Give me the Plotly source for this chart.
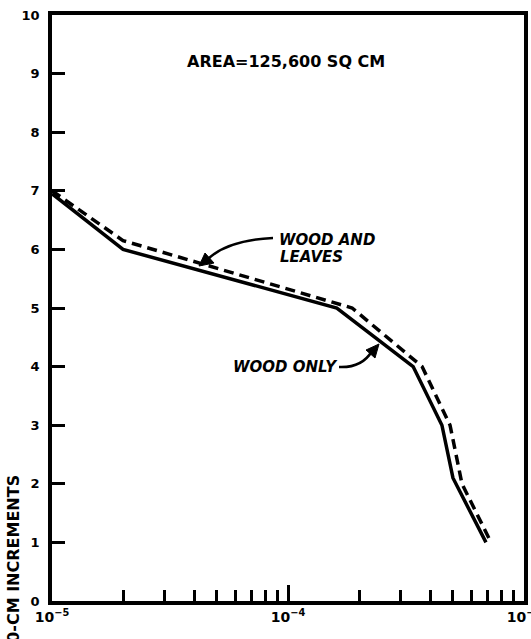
import plotly.graph_objects as go

# Data
x_wood = [1e-5, 2e-5, 1.61e-4, 3.39e-4, 4.49e-4, 5.0e-4, 6.9e-4]
y_wood = [6.95, 6.0, 5.0, 4.0, 3.0, 2.1, 1.0]
x_leaves = [1e-5, 2e-5, 1.87e-4, 3.7e-4, 4.86e-4, 5.46e-4, 7.25e-4]
y_leaves = [7.0, 6.15, 5.0, 4.0, 3.0, 2.0, 1.0]

x_major = [1e-5, 1e-4, 1e-3]
x_major_text = ["10<sup>−5</sup>", "10<sup>−4</sup>", "10<sup>−3</sup>"]
x_minor = [m * d for d in (1e-5, 1e-4) for m in range(2, 10)]
y_ticks = list(range(0, 11))

W, H = 531, 639
L, R, T, B = 52, 7, 15, 38
PW, PH = W - L - R, H - T - B

def px(xp):
    return (xp - L) / PW

def py(yp):
    return (H - B - yp) / PH

FONT = "DejaVu Sans"
BLK = "#000000"

fig = go.Figure()
fig.add_trace(go.Scatter(x=x_wood, y=y_wood, mode="lines",
                         line=dict(color=BLK, width=3.5), name="Wood only"))
fig.add_trace(go.Scatter(x=x_leaves, y=y_leaves, mode="lines",
                         line=dict(color=BLK, width=3.5, dash="10px,6px"),
                         name="Wood and leaves"))
# invisible trace to activate minor-tick axis
fig.add_trace(go.Scatter(x=[x_minor[0]], y=[0], xaxis="x2", mode="markers",
                         marker=dict(opacity=0), hoverinfo="skip", showlegend=False))

fig.update_layout(
    width=W, height=H,
    margin=dict(l=L, r=R, t=T, b=B),
    paper_bgcolor="white", plot_bgcolor="white",
    showlegend=False,
    font=dict(family=FONT, color=BLK, size=12),
    xaxis=dict(type="log", range=[-5, -3], tickvals=x_major, ticktext=x_major_text,
               ticks="inside", ticklen=16, tickwidth=2.5, tickcolor=BLK,
               showline=True, linewidth=3.5, linecolor=BLK, mirror=True,
               showgrid=False, zeroline=False, automargin=False,
               ticklabeloverflow="allow",
               tickfont=dict(family=FONT, size=14, color=BLK, weight="bold")),
    xaxis2=dict(type="log", range=[-5, -3], overlaying="x", anchor="y", side="bottom",
                tickvals=x_minor, showticklabels=False,
                ticks="inside", ticklen=11, tickwidth=2.5, tickcolor=BLK,
                showline=False, showgrid=False, zeroline=False),
    yaxis=dict(range=[0, 10], tickvals=y_ticks, ticks="inside", ticklen=13,
               tickwidth=2.5, tickcolor=BLK,
               showline=True, linewidth=3.5, linecolor=BLK, mirror=True,
               showgrid=False, zeroline=False, ticklabelstandoff=6, automargin=False,
               tickfont=dict(family=FONT, size=13, color=BLK, weight="bold")),
)

# Text annotations
fig.add_annotation(xref="paper", yref="paper", x=px(286), y=py(50),
                   text="<b>AREA=125,600 SQ CM</b>", showarrow=False,
                   font=dict(family=FONT, size=16, color=BLK))
fig.add_annotation(xref="paper", yref="paper", x=px(277), y=py(240),
                   xanchor="left", text="<b><i>WOOD AND</i></b>", showarrow=False,
                   font=dict(family=FONT, size=15, color=BLK))
fig.add_annotation(xref="paper", yref="paper", x=px(278), y=py(257),
                   xanchor="left", text="<b><i>LEAVES</i></b>", showarrow=False,
                   font=dict(family=FONT, size=15, color=BLK))
fig.add_annotation(xref="paper", yref="paper", x=px(285), y=py(367),
                   text="<b><i>WOOD ONLY</i></b>", showarrow=False,
                   font=dict(family=FONT, size=15, color=BLK))
fig.add_annotation(xref="paper", yref="paper", x=px(2), y=py(473),
                   yanchor="top", textangle=-90,
                   text="<b>10-CM INCREMENTS</b>", showarrow=False,
                   font=dict(family=FONT, size=16, color=BLK))

# Curved leader lines
fig.add_shape(type="path", xref="paper", yref="paper",
              path=f"M {px(273)},{py(238)} Q {px(228)},{py(240)} {px(208)},{py(259)}",
              line=dict(color=BLK, width=2.5))
fig.add_shape(type="path", xref="paper", yref="paper",
              path=f"M {px(339)},{py(367)} Q {px(362)},{py(368)} {px(372)},{py(351)}",
              line=dict(color=BLK, width=2.5))
# Arrowheads (filled triangles)
fig.add_shape(type="path", xref="paper", yref="paper",
              path=(f"M {px(199)},{py(266)} L {px(205)},{py(253)} "
                    f"L {px(214)},{py(263)} Z"),
              fillcolor=BLK, line=dict(color=BLK, width=1))
fig.add_shape(type="path", xref="paper", yref="paper",
              path=(f"M {px(379)},{py(344)} L {px(366)},{py(350)} "
                    f"L {px(375)},{py(358)} Z"),
              fillcolor=BLK, line=dict(color=BLK, width=1))

fig.write_html("out.html", config={"displayModeBar": False},
               post_script="document.body.style.margin='0';")
